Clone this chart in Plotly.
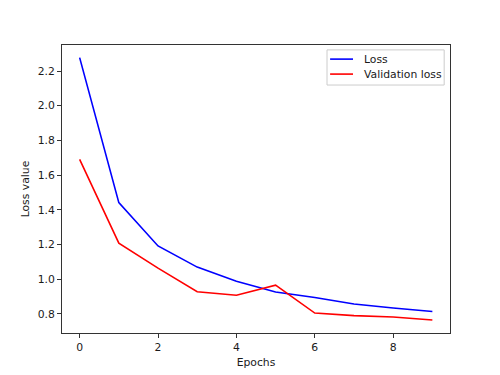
import plotly.graph_objects as go

epochs = list(range(10))
loss = [2.277, 1.441, 1.191, 1.069, 0.988, 0.925, 0.894, 0.856, 0.833, 0.813]
val_loss = [1.690, 1.207, 1.063, 0.927, 0.907, 0.965, 0.804, 0.789, 0.781, 0.764]
series_names = ["Loss", "Validation loss"]
series_colors = ["#0000ff", "#ff0000"]
x_ticks = [0, 2, 4, 6, 8]
y_ticks = [0.8, 1.0, 1.2, 1.4, 1.6, 1.8, 2.0, 2.2]

font = dict(family="DejaVu Sans", size=10.8, color="#1a1a1a")

fig = go.Figure()
for ys, name, col in zip([loss, val_loss], series_names, series_colors):
    fig.add_trace(go.Scatter(x=epochs, y=ys, mode="lines", name=name,
                             line=dict(color=col, width=1.6), showlegend=False))

axis_common = dict(showgrid=False, zeroline=False, showline=True, mirror=True,
                   linecolor="#333333", linewidth=1, ticks="outside", ticklen=4,
                   tickwidth=1, tickcolor="#333333", tickfont=font, automargin=False)

fig.update_layout(
    width=500, height=375,
    margin=dict(l=62, r=50, t=45, b=42),
    paper_bgcolor="white", plot_bgcolor="white",
    font=font,
    xaxis=dict(range=[-0.45, 9.45], tickvals=x_ticks, ticktext=[str(v) for v in x_ticks],
               title=dict(text="Epochs", font=font, standoff=5), **axis_common),
    yaxis=dict(range=[0.689, 2.35], tickvals=y_ticks, ticktext=[f"{v:.1f}" for v in y_ticks],
               title=dict(text="Loss value", font=font, standoff=5), **axis_common),
    showlegend=False,
)

# Manual legend (matplotlib-style box in upper right)
fig.add_shape(type="rect", xref="paper", yref="paper",
              x0=0.683, x1=0.985, y0=0.861, y1=0.983,
              line=dict(color="#cccccc", width=1), fillcolor="rgba(255,255,255,0.8)")
for name, col, yy in zip(series_names, series_colors, [0.951, 0.899]):
    fig.add_shape(type="line", xref="paper", yref="paper",
                  x0=0.691, x1=0.750, y0=yy, y1=yy,
                  line=dict(color=col, width=1.6))
    fig.add_annotation(xref="paper", yref="paper", x=0.773, y=yy, text=name,
                       showarrow=False, xanchor="left", yanchor="middle",
                       font=font)

fig.write_html("out.html", config={"displayModeBar": False},
               post_script="document.body.style.margin='0';")
